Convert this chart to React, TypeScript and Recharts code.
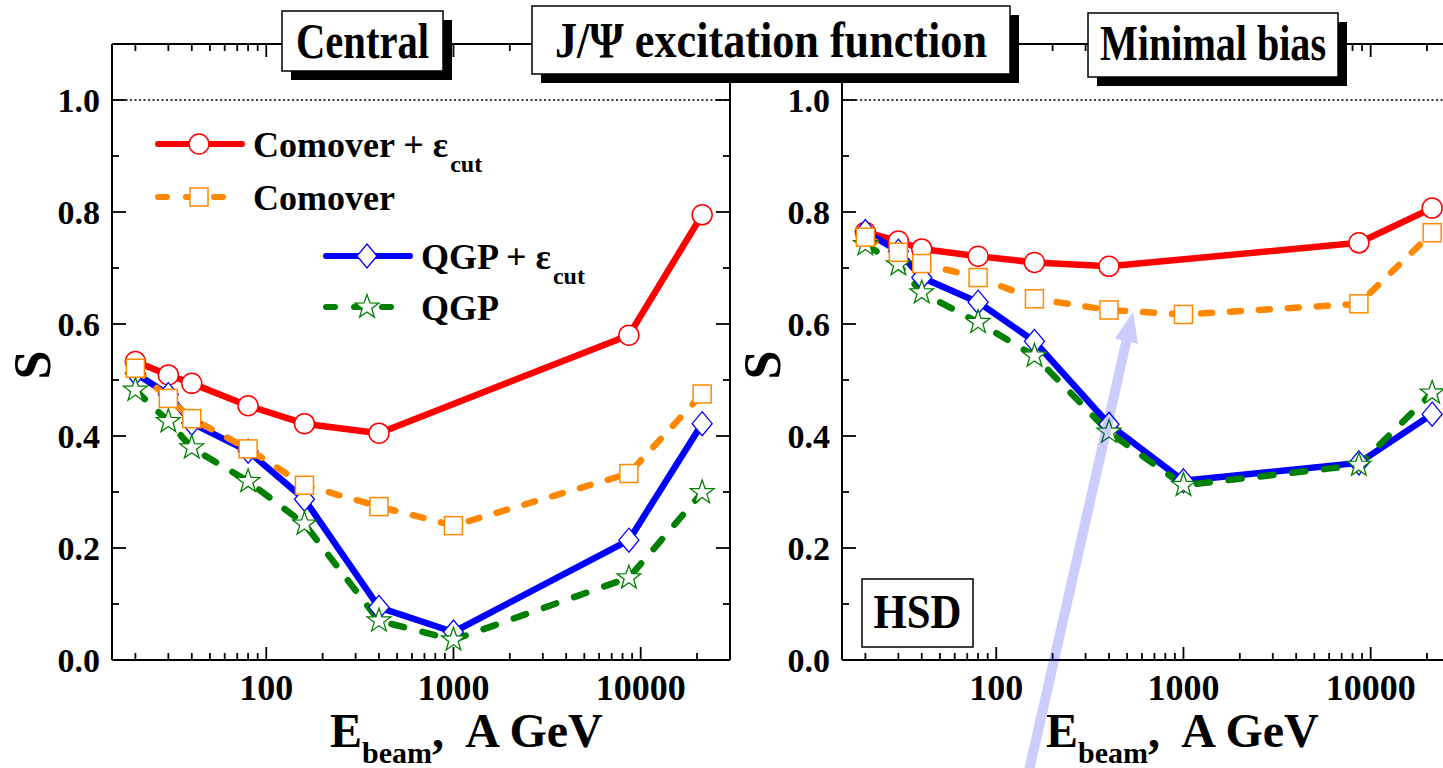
import { LineChart, Line, XAxis, YAxis, ReferenceLine, Legend } from "recharts";

const FONT = "'Liberation Serif', 'Times New Roman', serif";

// beam energies (A GeV) of the calculated points
const energies = [20, 30, 40, 80, 160, 400, 1000, 8650, 21300];

// central collisions
const centralComoverCut = [0.533, 0.509, 0.494, 0.454, 0.422, 0.405, null, 0.58, 0.795];
const centralComover = [0.521, 0.467, 0.431, 0.377, 0.312, 0.274, 0.24, 0.333, 0.475];
const centralQgpCut = [0.512, 0.474, 0.423, 0.373, 0.287, 0.094, 0.05, 0.214, 0.422];
const centralQgp = [0.482, 0.426, 0.379, 0.319, 0.243, 0.07, 0.036, 0.147, 0.299];

// minimal bias
const minbiasComoverCut = [0.764, 0.748, 0.734, 0.721, 0.71, 0.703, null, 0.745, 0.807];
const minbiasComover = [0.755, 0.728, 0.708, 0.683, 0.645, 0.625, 0.617, 0.636, 0.763];
const minbiasQgpCut = [0.765, 0.73, 0.683, 0.639, 0.569, 0.421, 0.32, 0.352, 0.439];
const minbiasQgp = [0.742, 0.706, 0.656, 0.603, 0.543, 0.407, 0.312, 0.348, 0.477];

const xTicks = [
  20, 30, 40, 50, 60, 70, 80, 90, 100, 200, 300, 400, 500, 600, 700, 800, 900, 1000,
  2000, 3000, 4000, 5000, 6000, 7000, 8000, 9000, 10000, 20000,
];
const yTicks = [0, 0.1, 0.2, 0.3, 0.4, 0.5, 0.6, 0.7, 0.8, 0.9, 1.0];

type MarkerKind = "circle" | "square" | "diamond" | "star";
type Series = {
  key: string;
  label: string;
  sub?: string;
  color: string;
  dash?: string;
  marker: MarkerKind;
};

// drawing order: later series sit on top
const series: Series[] = [
  { key: "comoverCut", label: "Comover + ε", sub: "cut", color: "#ff0000", marker: "circle" },
  { key: "qgpCut", label: "QGP + ε", sub: "cut", color: "#0000ff", marker: "diamond" },
  { key: "qgp", label: "QGP", color: "#008000", dash: "13 19", marker: "star" },
  { key: "comover", label: "Comover", color: "#ff8800", dash: "11 18", marker: "square" },
];

const legendSpots: Record<string, { x: number; y: number }> = {
  comoverCut: { x: 155, y: 144 },
  comover: { x: 155, y: 197 },
  qgpCut: { x: 323, y: 256 },
  qgp: { x: 323, y: 307 },
};

function buildRows(comoverCut: (number | null)[], comover: number[], qgpCut: number[], qgp: number[]) {
  return energies.map((e, i) => ({
    e,
    comoverCut: comoverCut[i],
    comover: comover[i],
    qgpCut: qgpCut[i],
    qgp: qgp[i],
  }));
}

const centralRows = buildRows(centralComoverCut, centralComover, centralQgpCut, centralQgp);
const minbiasRows = buildRows(minbiasComoverCut, minbiasComover, minbiasQgpCut, minbiasQgp);

function starPoints(cx: number, cy: number, ro: number, ri: number) {
  const pts: string[] = [];
  for (let k = 0; k < 10; k++) {
    const r = k % 2 === 0 ? ro : ri;
    const a = -Math.PI / 2 + (k * Math.PI) / 5;
    pts.push(`${cx + r * Math.cos(a)},${cy + r * Math.sin(a)}`);
  }
  return pts.join(" ");
}

function Marker({ kind, cx, cy, color }: { kind: MarkerKind; cx: number; cy: number; color: string }) {
  if (kind === "circle")
    return <circle cx={cx} cy={cy} r={10} fill="#fff" stroke={color} strokeWidth={1.5} />;
  if (kind === "square")
    return <rect x={cx - 9} y={cy - 9} width={18} height={18} fill="#fff" stroke={color} strokeWidth={1.5} />;
  if (kind === "diamond")
    return (
      <polygon
        points={`${cx},${cy - 12} ${cx + 10},${cy} ${cx},${cy + 12} ${cx - 10},${cy}`}
        fill="#fff"
        stroke={color}
        strokeWidth={1.3}
      />
    );
  return <polygon points={starPoints(cx, cy, 12.5, 5)} fill="#fff" stroke={color} strokeWidth={1.3} />;
}

const isDecade = (v: number) => Math.abs(Math.log10(v) - Math.round(Math.log10(v))) < 1e-9;
const isEvenTenth = (v: number) => Math.round(v * 10) % 2 === 0;

const tickText = { fontFamily: FONT, fontWeight: 700, fill: "#000" };

function BottomTick(p: any) {
  const v = p.payload.value;
  const major = isDecade(v);
  return (
    <g>
      <line x1={p.x} x2={p.x} y1={p.y} y2={p.y - (major ? 13 : 7)} stroke="#000" strokeWidth={1.8} />
      {major && (
        <text x={p.x} y={p.y + 40} textAnchor="middle" fontSize={36} {...tickText}>
          {v}
        </text>
      )}
    </g>
  );
}

function TopTick(p: any) {
  const major = isDecade(p.payload.value);
  return <line x1={p.x} x2={p.x} y1={p.y} y2={p.y + (major ? 13 : 7)} stroke="#000" strokeWidth={1.8} />;
}

function LeftTick(p: any) {
  const v = p.payload.value;
  const major = isEvenTenth(v);
  return (
    <g>
      <line x1={p.x} x2={p.x + (major ? 14 : 7)} y1={p.y} y2={p.y} stroke="#000" strokeWidth={1.8} />
      {major && (
        <text x={p.x - 12} y={p.y + 12} textAnchor="end" fontSize={34} {...tickText}>
          {v.toFixed(1)}
        </text>
      )}
    </g>
  );
}

function RightTick(p: any) {
  const major = isEvenTenth(p.payload.value);
  return <line x1={p.x} x2={p.x - (major ? 14 : 7)} y1={p.y} y2={p.y} stroke="#000" strokeWidth={1.8} />;
}

function LegendBlock(props: any) {
  const payload = props.payload || [];
  return (
    <svg width={760} height={340} style={{ position: "absolute", left: 0, top: 0 }}>
      {payload.map((entry: any) => {
        const s = series.find((q) => q.key === entry.dataKey);
        const spot = s && legendSpots[s.key];
        if (!s || !spot) return null;
        return (
          <g key={s.key}>
            <line
              x1={spot.x + 3}
              x2={spot.x + 87}
              y1={spot.y}
              y2={spot.y}
              stroke={s.color}
              strokeWidth={6}
              strokeLinecap="round"
              strokeDasharray={s.dash ? "9 19" : undefined}
            />
            <Marker kind={s.marker} cx={spot.x + 44} cy={spot.y} color={s.color} />
            <text x={spot.x + 98} y={spot.y + 13} fontSize={36} {...tickText}>
              {s.label}
              {s.sub && (
                <tspan fontSize={24} dy={15} dx={2}>
                  {s.sub}
                </tspan>
              )}
            </text>
          </g>
        );
      })}
    </svg>
  );
}

const axisLine = { stroke: "#000", strokeWidth: 2 };

function Panel({ left, rows, legend }: { left: number; rows: any[]; legend?: boolean }) {
  return (
    <div style={{ position: "absolute", left, top: 0 }}>
      <LineChart width={760} height={768} data={rows} margin={{ top: 34, right: 20, bottom: 48, left: 42 }}>
        <XAxis
          xAxisId="b"
          orientation="bottom"
          dataKey="e"
          type="number"
          scale="log"
          domain={[15, 30000]}
          allowDataOverflow
          ticks={xTicks}
          interval={0}
          tickSize={0}
          tickMargin={0}
          tickLine={false}
          axisLine={axisLine}
          tick={(p: any) => <BottomTick {...p} />}
          height={60}
        />
        <XAxis
          xAxisId="t"
          orientation="top"
          dataKey="e"
          type="number"
          scale="log"
          domain={[15, 30000]}
          allowDataOverflow
          ticks={xTicks}
          interval={0}
          tickSize={0}
          tickMargin={0}
          tickLine={false}
          axisLine={axisLine}
          tick={(p: any) => <TopTick {...p} />}
          height={10}
        />
        <YAxis
          yAxisId="l"
          orientation="left"
          type="number"
          domain={[0, 1.1]}
          allowDataOverflow
          ticks={yTicks}
          interval={0}
          tickSize={0}
          tickMargin={0}
          tickLine={false}
          axisLine={axisLine}
          tick={(p: any) => <LeftTick {...p} />}
          width={70}
        />
        <YAxis
          yAxisId="r"
          orientation="right"
          type="number"
          domain={[0, 1.1]}
          allowDataOverflow
          ticks={yTicks}
          interval={0}
          tickSize={0}
          tickMargin={0}
          tickLine={false}
          axisLine={axisLine}
          tick={(p: any) => <RightTick {...p} />}
          width={10}
        />
        <ReferenceLine xAxisId="b" yAxisId="l" y={1} stroke="#000" strokeWidth={1.3} strokeDasharray="2 2.5" />
        {series.map((s) => (
          <Line
            key={s.key}
            xAxisId="b"
            yAxisId="l"
            type="linear"
            dataKey={s.key}
            name={s.label}
            stroke={s.color}
            strokeWidth={6.5}
            strokeDasharray={s.dash}
            strokeLinecap="round"
            strokeLinejoin="round"
            connectNulls
            isAnimationActive={false}
            activeDot={false}
            dot={(p: any) =>
              p.value == null || p.cy == null ? (
                <g key={p.key} />
              ) : (
                <g key={p.key}>
                  <Marker kind={s.marker} cx={p.cx} cy={p.cy} color={s.color} />
                </g>
              )
            }
          />
        ))}
        {legend && (
          <Legend
            layout="horizontal"
            verticalAlign="middle"
            align="center"
            content={(p: any) => <LegendBlock {...p} />}
            wrapperStyle={{ left: 0, top: 0, width: 760, height: 340 }}
          />
        )}
      </LineChart>
    </div>
  );
}

function TitleBox({ x, y, w, h, text, len, base }: { x: number; y: number; w: number; h: number; text: string; len: number; base: number }) {
  return (
    <g>
      <rect x={x + 9} y={y + 9} width={w} height={h} fill="#000" />
      <rect x={x} y={y} width={w} height={h} fill="#fff" stroke="#000" strokeWidth={1.5} />
      <text
        x={x + w / 2}
        y={base}
        textAnchor="middle"
        fontSize={50}
        textLength={len}
        lengthAdjust="spacingAndGlyphs"
        {...tickText}
      >
        {text}
      </text>
    </g>
  );
}

function AxisTitle({ x }: { x: number }) {
  return (
    <text x={x} y={747} {...tickText} style={{ whiteSpace: "pre" }}>
      <tspan fontSize={48}>E</tspan>
      <tspan fontSize={30} dy={16}>
        beam
      </tspan>
      <tspan fontSize={48} dy={-16}>
        {",  A GeV"}
      </tspan>
    </text>
  );
}

// pointer arrow from the bottom edge up to the minimal-bias comover curve
function Arrow() {
  const tip = { x: 1133, y: 312 };
  const tail = { x: 1028, y: 775 };
  const dx = tip.x - tail.x;
  const dy = tip.y - tail.y;
  const len = Math.hypot(dx, dy);
  const ux = dx / len;
  const uy = dy / len;
  const nx = -uy;
  const ny = ux;
  const headLen = 30;
  const bx = tip.x - ux * headLen;
  const by = tip.y - uy * headLen;
  const sw = 5;
  const hw = 12;
  const pts = [
    [tail.x + nx * sw, tail.y + ny * sw],
    [bx + nx * sw, by + ny * sw],
    [bx + nx * hw, by + ny * hw],
    [tip.x, tip.y],
    [bx - nx * hw, by - ny * hw],
    [bx - nx * sw, by - ny * sw],
    [tail.x - nx * sw, tail.y - ny * sw],
  ]
    .map((q) => q.join(","))
    .join(" ");
  return <polygon points={pts} fill="rgba(0,0,255,0.2)" />;
}

export default function App() {
  return (
    <div
      style={{
        position: "absolute",
        left: 0,
        top: 0,
        width: 1443,
        height: 768,
        overflow: "hidden",
        background: "#fff",
        fontFamily: FONT,
      }}
    >
      <Panel left={0} rows={centralRows} legend />
      <Panel left={730} rows={minbiasRows} />
      <svg width={1443} height={768} style={{ position: "absolute", left: 0, top: 0, pointerEvents: "none" }}>
        <TitleBox x={282} y={11} w={161} h={60} text="Central" len={133} base={58} />
        <TitleBox x={532} y={6} w={478} h={68} text="J/Ψ excitation function" len={432} base={57} />
        <TitleBox x={1088} y={13} w={250} h={64} text="Minimal bias" len={226} base={60} />

        <text transform="translate(50,365) rotate(-90)" textAnchor="middle" fontSize={52} {...tickText}>
          S
        </text>
        <text transform="translate(780,365) rotate(-90)" textAnchor="middle" fontSize={52} {...tickText}>
          S
        </text>

        <AxisTitle x={330} />
        <AxisTitle x={1046} />

        <rect x={862} y={579} width={111} height={68} fill="#fff" stroke="#000" strokeWidth={1.5} />
        <text x={917.5} y={628} textAnchor="middle" fontSize={48} textLength={88} lengthAdjust="spacingAndGlyphs" {...tickText}>
          HSD
        </text>

        <Arrow />
      </svg>
    </div>
  );
}
